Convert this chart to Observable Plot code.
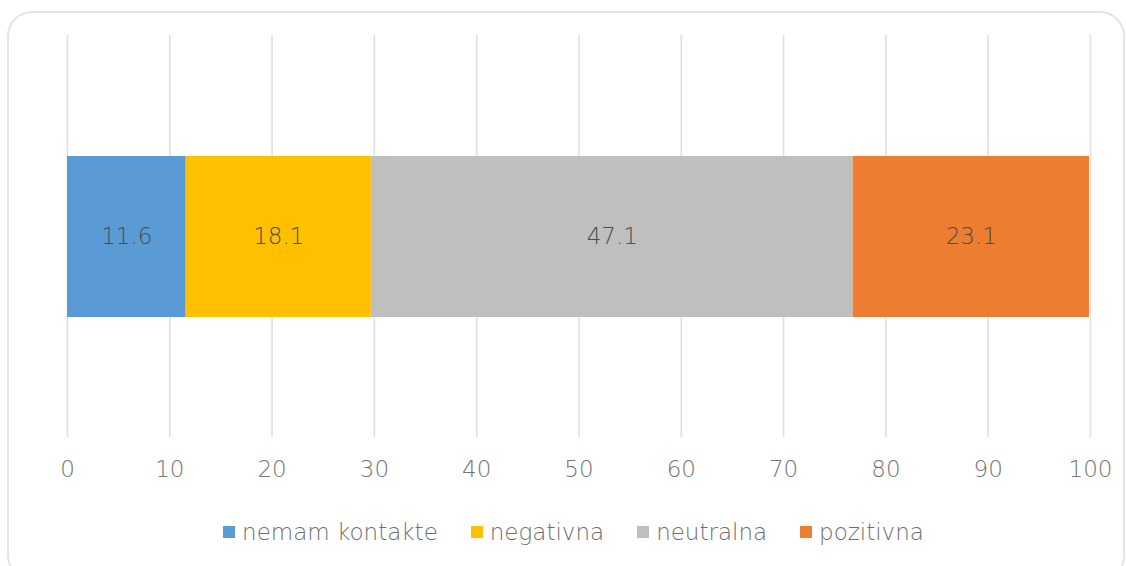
<!DOCTYPE html>
<html>
<head>
<meta charset="utf-8">
<script src="https://cdn.jsdelivr.net/npm/d3@7"></script>
<script src="https://cdn.jsdelivr.net/npm/@observablehq/plot@0.6"></script>
<style>
  html, body { margin: 0; padding: 0; background: #fff; }
  #wrap { position: relative; width: 1126px; height: 566px; overflow: hidden; font-family: "DejaVu Sans", sans-serif; font-weight: 200; }
  #frame { position: absolute; left: 7px; top: 11px; width: 1118px; height: 570px; border: 2px solid #e4e4e4; border-radius: 25px; box-sizing: border-box; }
  #chart { position: absolute; left: 0; top: 0; }
  #legend { position: absolute; left: 0; width: 1147px; top: 518px; height: 28px; display: flex; justify-content: center; align-items: center; gap: 33px; font-size: 23px; color: #6e6e6e; }
  .item { display: flex; align-items: center; gap: 7px; }
  .sw { width: 12px; height: 12px; display: inline-block; }
</style>
</head>
<body>
<div id="wrap">
  <div id="frame"></div>
  <div id="chart"></div>
  <div id="legend"></div>
</div>
<script>
const categories = ["nemam kontakte", "negativna", "neutralna", "pozitivna"];
const values = [11.6, 18.1, 47.1, 23.1];
const colors = ["#5B9BD5", "#FFC000", "#BFBFBF", "#ED7D31"];
const xTicks = [0, 10, 20, 30, 40, 50, 60, 70, 80, 90, 100];

const data = categories.map((c, i) => ({category: c, value: values[i], row: "r"}));

const chart = Plot.plot({
  width: 1126,
  height: 500,
  marginLeft: 67,
  marginRight: 36,
  marginTop: 35,
  marginBottom: 63,
  style: {fontFamily: "DejaVu Sans, sans-serif", fontSize: "23px", fontWeight: 200, background: "transparent"},
  x: {domain: [0, 100], ticks: xTicks, tickSize: 0, tickPadding: 23, label: null},
  y: {domain: ["r"], padding: 0.4286, axis: null},
  color: {domain: categories, range: colors},
  marks: [
    Plot.ruleX(xTicks, {stroke: "#e0e0e0", strokeWidth: 1.6}),
    Plot.barX(data, Plot.stackX({x: "value", y: "row", fill: "category", order: categories})),
    Plot.text(data, Plot.stackX({x: "value", y: "row", z: "category", order: categories, text: d => d.value.toFixed(1), fill: "#4d4d4d", fontSize: 23, fontWeight: 200})),
    Plot.axisX({ticks: xTicks, tickSize: 0, tickPadding: 23, color: "#757575", fontSize: 23, fontWeight: 200, label: null})
  ]
});
document.getElementById("chart").appendChild(chart);

const legend = document.getElementById("legend");
categories.forEach((c, i) => {
  const item = document.createElement("div");
  item.className = "item";
  const sw = document.createElement("span");
  sw.className = "sw";
  sw.style.background = colors[i];
  const t = document.createElement("span");
  t.textContent = c;
  item.appendChild(sw);
  item.appendChild(t);
  legend.appendChild(item);
});
</script>
</body>
</html>
